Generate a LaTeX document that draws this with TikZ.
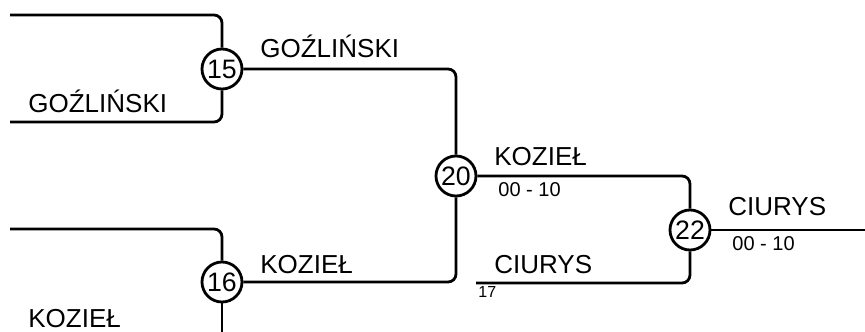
\documentclass[tikz,border=0pt]{standalone}
\usepackage{fontspec}
\setmainfont{Liberation Sans}
\usepackage{tikz}

\begin{document}
\begin{tikzpicture}[x=0.75pt, y=-0.75pt, line width=2.1pt,
        match/.style={draw, circle, minimum size=30pt, inner sep=0pt, font=\fontsize{20}{22}\selectfont},
        player/.style={anchor=base west, inner sep=0pt, font=\fontsize{19.5}{22}\selectfont},
        score/.style={anchor=base west, inner sep=0pt, font=\fontsize{15}{17}\selectfont}]
        \useasboundingbox (0,0) rectangle (865,332);

        \node[match] (M15) at (222,69) {15};
        \node[match] (M16) at (222,282) {16};
        \node[match] (M20) at (456,176) {20};
        \node[match] (M22) at (690,230) {22};

        \coordinate (T15) at (10,15);
        \coordinate (B15) at (10,122);
        \coordinate (T16) at (10,229);
        \coordinate (B16) at (222,332);
        \coordinate (C17) at (476,283);
        \coordinate (W22) at (865,230);

        \draw[rounded corners=6pt] (T15) -| (M15);
        \draw[rounded corners=6pt] (B15) -| (M15);
        \draw[rounded corners=6pt] (T16) -| (M16);
        \draw (M16) -- (B16);
        \draw[rounded corners=6pt] (M15) -| (M20);
        \draw[rounded corners=6pt] (M16) -| (M20);
        \draw[rounded corners=6pt] (M20) -| (M22);
        \draw[rounded corners=6pt] (C17) -| (M22);
        \draw (M22) -- (W22);

        \node[player] (P15) at (27,112) {GOŹLIŃSKI};
        \node[player] (P16) at (27,327) {KOZIEŁ};
        \node[player] (W15) at (259,57) {GOŹLIŃSKI};
        \node[player] (W16) at (259,273) {KOZIEŁ};
        \node[player] (W20) at (493,165) {KOZIEŁ};
        \node[score] (S20) at (497,196) {00 - 10};
        \node[player] (P17) at (493,273) {CIURYS};
        \node[score, font=\fontsize{12}{14}\selectfont] (N17) at (477,297) {17};
        \node[player] (P22) at (727,215) {CIURYS};
        \node[score] (S22) at (731,250) {00 - 10};
\end{tikzpicture}
\end{document}
